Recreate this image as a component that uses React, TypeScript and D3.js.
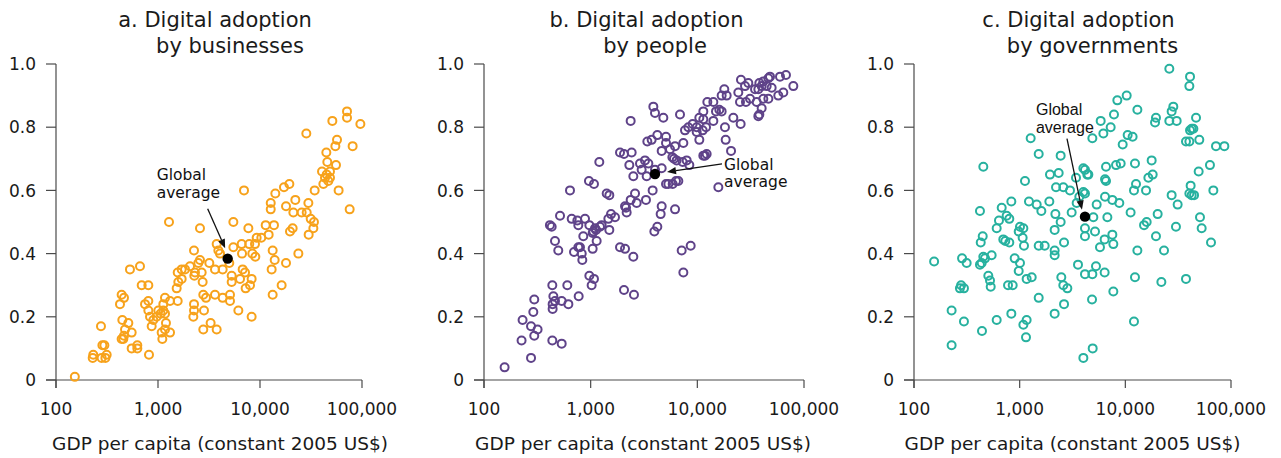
import React from "react";
import * as d3 from "d3";

// ---------- data ----------
const xTicks = [100, 1000, 10000, 100000];
const yTicks = [0, 0.2, 0.4, 0.6, 0.8, 1.0];
const xAxisTitle = "GDP per capita (constant 2005 US$)";
const titleLines = [
  ["a. Digital adoption", "by businesses"],
  ["b. Digital adoption", "by people"],
  ["c. Digital adoption", "by governments"],
];
const annotationLines = ["Global", "average"];

// [GDP per capita, adoption index]
const businesses: [number, number][] = [
  [71300,0.85],[71300,0.83],[51200,0.82],[96400,0.81],[28450,0.78],[56900,0.76],[54800,0.74],[80950,0.74],[44700,0.72],[45700,0.69],[55600,0.68],[40550,0.66],[48550,0.66],[45060,0.65],[43370,0.64],[48550,0.64],[41800,0.62],[46800,0.63],[59000,0.60],[34350,0.60],[75700,0.54],
  [19400,0.62],[17180,0.61],[14130,0.59],[12740,0.56],[12740,0.54],[17990,0.55],[22200,0.57],[21230,0.53],[25600,0.53],[29800,0.56],[28700,0.53],[31400,0.51],[33800,0.50],[33350,0.48],[30000,0.46],[20900,0.48],[19680,0.47],[13710,0.49],[11370,0.49],[12160,0.46],[10300,0.45],[9270,0.45],[8930,0.43],[7850,0.43],[7690,0.48],[9000,0.39],[8410,0.40],[13310,0.41],[13930,0.38],[13010,0.35],[17990,0.37],[23770,0.40],[16300,0.30],[13310,0.27],[8280,0.32],[7980,0.30],[7130,0.34],[6760,0.35],[7230,0.29],[8280,0.20],[6970,0.60],[5480,0.50],[2580,0.48],[1282,0.50],
  [6610,0.43],[5480,0.42],[6665,0.40],[3760,0.43],[4055,0.40],[3905,0.41],[5000,0.37],[5275,0.33],[5275,0.31],[6370,0.32],[5080,0.27],[5080,0.25],[6135,0.22],[4305,0.26],[3620,0.27],[3620,0.35],[4305,0.35],[3185,0.37],[2780,0.27],[2955,0.26],[2825,0.22],[2780,0.16],[3280,0.18],[3760,0.16],[2580,0.38],[2485,0.37],[2305,0.34],[2680,0.34],[2270,0.33],[2740,0.31],[2254,0.41],[2254,0.24],[2254,0.22],[2220,0.20],
  [2060,0.36],[1840,0.35],[1706,0.35],[1560,0.34],[1706,0.32],[1582,0.31],[1524,0.29],[1560,0.25],[1312,0.25],[1171,0.26],[1128,0.24],[1007,0.22],[1128,0.22],[1062,0.21],[1171,0.21],[1197,0.18],[1171,0.16],[1086,0.15],[1312,0.15],[1103,0.13],[970,0.20],[900,0.19],[867,0.17],[835,0.20],[804,0.22],[804,0.25],[746,0.24],[692,0.30],[804,0.30],[666,0.36],[531,0.35],[816,0.08],[627,0.11],[627,0.10],[552,0.10],[552,0.15],[512,0.18],[475,0.16],[464,0.14],[457,0.13],[440,0.13],[447,0.19],[424,0.24],[440,0.27],[464,0.26],[314,0.08],[298,0.11],[305,0.07],[285,0.11],[276,0.17],[232,0.08],[229,0.07],[280,0.07],[153,0.01],
];

const people: [number, number][] = [
  [67760,0.965],[59570,0.96],[47970,0.96],[46340,0.955],[41560,0.945],[38140,0.94],[40090,0.93],[44670,0.93],[49740,0.925],[79430,0.93],[63970,0.91],[57410,0.90],[46340,0.89],[37320,0.92],[34750,0.92],[35980,0.88],[40090,0.86],[38140,0.84],[37320,0.835],[41560,0.89],[30060,0.94],[25650,0.95],[27990,0.93],[24220,0.91],[25120,0.88],[28580,0.88],[25470,0.81],[21750,0.83],[31180,0.89],[17900,0.92],[18840,0.90],[16900,0.90],[14130,0.88],[12410,0.88],[14960,0.85],[16080,0.855],[16900,0.85],[14130,0.82],[11380,0.85],[11380,0.825],[12060,0.80],[11220,0.79],[10440,0.83],[9860,0.80],[9040,0.81],[8237,0.80],[7660,0.79],[6880,0.84],[18160,0.80],[18440,0.76],[20700,0.725],[10440,0.76],[9860,0.785],[11380,0.71],[12230,0.715],[11800,0.71],
  [3869,0.865],[4010,0.845],[4800,0.83],[2371,0.82],[4217,0.775],[5085,0.77],[3730,0.76],[3398,0.755],[5085,0.75],[5543,0.73],[6180,0.74],[7395,0.75],[4632,0.725],[1884,0.72],[2054,0.715],[2423,0.72],[5833,0.705],[6042,0.70],[6400,0.695],[7286,0.69],[7943,0.695],[8414,0.68],[3230,0.695],[2900,0.685],[3474,0.685],[2304,0.68],[3006,0.665],[2512,0.645],[3350,0.645],[4632,0.67],[4010,0.665],[5346,0.62],[5085,0.62],[5873,0.62],[6310,0.63],[6637,0.63],[15740,0.61],[3811,0.60],[2605,0.59],[2371,0.57],[2699,0.56],[3300,0.57],[2099,0.55],[2145,0.545],[2175,0.53],[4632,0.55],[6180,0.54],[4530,0.525],[4217,0.485],[3953,0.47],[7132,0.41],[8660,0.425],[7395,0.34],[2512,0.39],[1884,0.42],[2099,0.415],[2054,0.285],[2547,0.27],
  [1205,0.69],[964,0.63],[1074,0.62],[1413,0.59],[1496,0.585],[640,0.60],[516,0.52],[415,0.49],[431,0.485],[664,0.51],[750,0.505],[885,0.51],[766,0.49],[972,0.49],[1099,0.48],[1059,0.47],[1122,0.475],[1223,0.485],[1268,0.49],[1138,0.44],[1044,0.465],[1496,0.475],[1552,0.525],[1691,0.515],[1465,0.51],[853,0.455],[794,0.42],[766,0.42],[824,0.40],[835,0.38],[698,0.405],[463,0.44],[497,0.41],[1044,0.415],[972,0.33],[1074,0.32],[1021,0.30],[604,0.30],[772,0.265],[437,0.30],[447,0.265],[463,0.25],[440,0.225],[440,0.24],[535,0.25],[618,0.24],[296,0.255],[290,0.215],[230,0.19],[276,0.17],[318,0.16],[296,0.14],[225,0.125],[437,0.125],[535,0.115],[276,0.07],[156,0.04],
];

const governments: [number, number][] = [
  [26080,0.985],[40950,0.96],[40360,0.93],[10300,0.90],[8400,0.885],[28450,0.865],[27430,0.85],[13000,0.855],[7810,0.84],[46680,0.83],[19500,0.83],[19100,0.815],[26080,0.82],[30610,0.82],[5845,0.82],[7265,0.80],[6195,0.78],[42460,0.795],[44050,0.795],[40950,0.79],[10520,0.775],[11720,0.77],[37500,0.755],[40360,0.755],[50120,0.76],[4875,0.765],[9440,0.745],[72110,0.74],[86500,0.74],[1271,0.765],[1514,0.715],[2443,0.71],[12340,0.685],[17750,0.695],[9035,0.685],[8165,0.68],[6565,0.675],[63220,0.68],[49430,0.66],[453,0.675],[6425,0.635],[6565,0.63],[4007,0.67],[4150,0.665],[4365,0.65],[4467,0.65],[2340,0.655],[1936,0.65],[3414,0.64],[1123,0.63],[18150,0.65],[16520,0.64],[12620,0.62],[41500,0.615],[2208,0.61],[2588,0.61],[2994,0.60],[3670,0.58],[4007,0.595],[4150,0.59],[15700,0.60],[12075,0.60],[68080,0.60],[40360,0.59],[42460,0.585],[44700,0.585],[27430,0.585],[31270,0.555],[6425,0.58],[7535,0.57],[8770,0.56],[11220,0.53],[20230,0.525],[5355,0.555],[1909,0.565],[1225,0.565],[1449,0.555],[1604,0.535],[2178,0.525],[3105,0.53],[3462,0.56],[834,0.565],[676,0.545],[753,0.52],[798,0.51],[637,0.505],[606,0.48],[421,0.535],[2443,0.50],[2143,0.475],[4980,0.515],[6760,0.515],[50880,0.515],[15920,0.50],[15030,0.49],[30140,0.485],[52770,0.48],[4150,0.48],[5165,0.47],[4150,0.455],[6370,0.445],[7535,0.46],[7700,0.43],[19500,0.455],[64680,0.435],[13000,0.41],[23230,0.41],[5755,0.42],[2630,0.435],[2143,0.41],[2143,0.395],[1725,0.425],[1514,0.425],[1099,0.425],[1084,0.48],[1007,0.485],[979,0.47],[1067,0.45],[798,0.435],[700,0.445],[731,0.44],[447,0.455],[428,0.435],[543,0.395],[453,0.39],[470,0.385],[437,0.37],[421,0.365],[285,0.385],[315,0.37],[155,0.375],[897,0.385],[1007,0.37],[979,0.345],[505,0.33],[524,0.315],[532,0.295],[1164,0.32],[1300,0.325],[776,0.30],[859,0.30],[279,0.30],[272,0.29],[297,0.29],[1514,0.26],[2478,0.325],[2588,0.30],[2826,0.29],[2630,0.24],[3565,0.365],[4150,0.335],[4875,0.335],[5275,0.36],[6370,0.34],[7700,0.28],[4840,0.255],[12340,0.325],[21930,0.31],[37500,0.32],[227,0.22],[297,0.185],[834,0.21],[606,0.19],[440,0.155],[1084,0.175],[1164,0.19],[1148,0.135],[2143,0.21],[227,0.11],[12075,0.185],[4007,0.07],[4910,0.10],
];

const seriesData = [businesses, people, governments];
const globalAverages: [number, number][] = [[4820, 0.384], [4010, 0.652], [4150, 0.517]];
const seriesColors = ["#F7A21B", "#5F4389", "#27B19F"];

// ---------- layout ----------
const W = 1281;
const H = 458;
const TOP = 64;
const BOTTOM = 380;
const FONT = "'DejaVu Sans', sans-serif";

const layouts = [
  { left: 56, right: 362, title: [6, 21], axisTitle: 11,
    ann: { start: [-20, -50], tip: [-2.5, -10.5], text: [-71, -79], font: FONT, size: 15.5, lh: 18 } },
  { left: 484, right: 804, title: [2.5, 11], axisTitle: -1,
    ann: { start: [67, -10], tip: [12, -2], text: [69, -4], font: FONT, size: 15.5, lh: 17 } },
  { left: 914, right: 1231, title: [6, 20], axisTitle: 0,
    ann: { start: [-18, -78], tip: [-3, -7], text: [-49, -102], font: "'Liberation Sans', Arial, sans-serif", size: 16, lh: 18 } },
];

function Arrow({ x1, y1, x2, y2 }: { x1: number; y1: number; x2: number; y2: number }) {
  const ang = Math.atan2(y2 - y1, x2 - x1);
  const len = 9;
  const half = 3.6;
  const bx = x2 - len * Math.cos(ang);
  const by = y2 - len * Math.sin(ang);
  const px = -Math.sin(ang) * half;
  const py = Math.cos(ang) * half;
  return (
    <g>
      <line x1={x1} y1={y1} x2={bx} y2={by} stroke="#111" strokeWidth={1.3} />
      <polygon points={`${x2},${y2} ${bx + px},${by + py} ${bx - px},${by - py}`} fill="#111" />
    </g>
  );
}

function Panel({ i }: { i: number }) {
  const L = layouts[i];
  const x = d3.scaleLog().domain([100, 100000]).range([L.left, L.right]);
  const y = d3.scaleLinear().domain([0, 1]).range([BOTTOM, TOP]);
  const cx = (L.left + L.right) / 2;
  const fx = d3.format(",");
  const fy = (v: number) => (v === 0 ? "0" : d3.format(".1f")(v));
  const [ax, ay] = globalAverages[i];
  const gx = x(ax);
  const gy = y(ay);
  const a = L.ann;
  const axisColor = "#4a4a4a";
  return (
    <g>
      {titleLines[i].map((t, k) => (
        <text key={k} x={cx + L.title[k]} y={27 + k * 26} textAnchor="middle"
          fontFamily={FONT} fontSize={21} fill="#1a1a1a">{t}</text>
      ))}
      {/* axes */}
      <line x1={L.left} y1={TOP} x2={L.left} y2={BOTTOM + 8} stroke={axisColor} strokeWidth={1.2} />
      <line x1={L.left - 10} y1={BOTTOM} x2={L.right} y2={BOTTOM} stroke={axisColor} strokeWidth={1.2} />
      {yTicks.map((t) => (
        <g key={t}>
          <line x1={L.left - 10} x2={L.left} y1={y(t)} y2={y(t)} stroke={axisColor} strokeWidth={1.2} />
          <text x={L.left - 20} y={y(t)} dy="0.36em" textAnchor="end" fontFamily={FONT}
            fontSize={17} fill="#1a1a1a">{fy(t)}</text>
        </g>
      ))}
      {xTicks.map((t) => (
        <g key={t}>
          <line x1={x(t)} x2={x(t)} y1={BOTTOM} y2={BOTTOM + 8} stroke={axisColor} strokeWidth={1.2} />
          <text x={x(t)} y={415} textAnchor="middle" fontFamily={FONT} fontSize={17} fill="#1a1a1a">{fx(t)}</text>
        </g>
      ))}
      <text x={cx + L.axisTitle} y={450} textAnchor="middle" fontFamily={FONT} fontSize={18.5} fill="#1a1a1a">{xAxisTitle}</text>
      {/* points */}
      {seriesData[i].map((d, k) => (
        <circle key={k} cx={x(d[0])} cy={y(d[1])} r={4} fill="none" stroke={seriesColors[i]} strokeWidth={2} />
      ))}
      {/* global average */}
      <circle cx={gx} cy={gy} r={5.2} fill="#000" />
      <Arrow x1={gx + a.start[0]} y1={gy + a.start[1]} x2={gx + a.tip[0]} y2={gy + a.tip[1]} />
      {annotationLines.map((t, k) => (
        <text key={k} x={gx + a.text[0]} y={gy + a.text[1] + k * a.lh} fontFamily={a.font}
          fontSize={a.size} fill="#111">{t}</text>
      ))}
    </g>
  );
}

export default function App() {
  return (
    <svg width={W} height={H} viewBox={`0 0 ${W} ${H}`}
      style={{ position: "absolute", left: 0, top: 0, background: "#fff" }}>
      <rect width={W} height={H} fill="#fff" />
      {[0, 1, 2].map((i) => <Panel key={i} i={i} />)}
    </svg>
  );
}
